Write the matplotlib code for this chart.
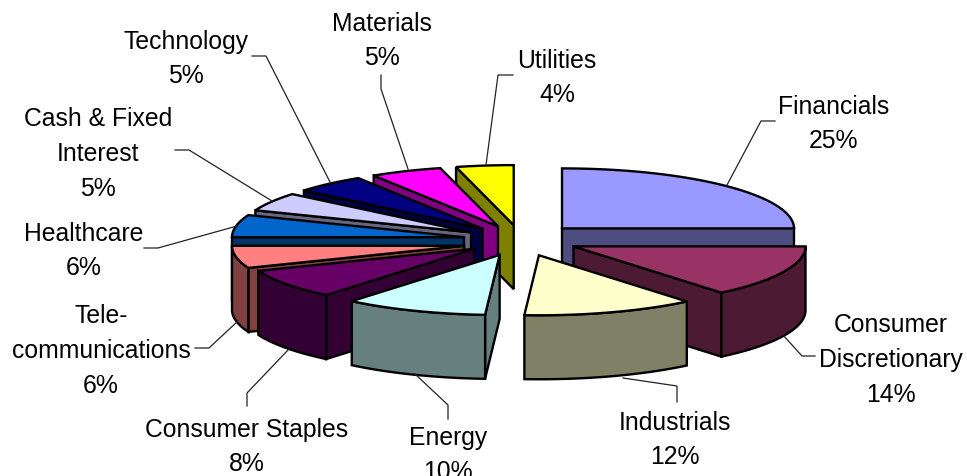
#!/bin/python

import matplotlib
matplotlib.use("Agg")
import matplotlib.pyplot as plt
from matplotlib.patches import Polygon
import numpy as np

# data, clockwise from twelve o'clock
sectors = ["Financials", "Consumer\nDiscretionary", "Industrials", "Energy",
           "Consumer Staples", "Tele-\ncommunications", "Healthcare",
           "Cash & Fixed\nInterest", "Technology", "Materials", "Utilities"]
weights = [25, 14, 12, 10, 8, 6, 6, 5, 5, 5, 4]
top_colors = ["#9999FF", "#993366", "#FFFFCC", "#CCFFFF", "#660066", "#FF8080",
              "#0066CC", "#CCCCFF", "#000080", "#FF00FF", "#FFFF00"]
side_colors = ["#4D4D80", "#4D1A33", "#808066", "#668080", "#330033", "#804040",
               "#003366", "#666680", "#000040", "#800080", "#808000"]

# pie geometry in pixels
CX, CY = 521, 241
RX, RY = 232, 60
DEPTH = 64
EXPLODE = 0.25

# small vertical corrections per slice, the original is not quite regular
y_nudge = [-1, 0, 1, 1, 0, 3, 0, 0, 0, 0, 0]

# back slices first so the front ones cover them
draw_order = [10, 9, 8, 7, 6, 5, 4, 3, 0, 1, 2]

# label centre, then leader line points
label_pos = [(834, 124), (891, 360), (675, 440), (448, 455),
             (247, 447), (101, 351), (84, 251),
             (98, 154), (186, 59), (382, 41), (557, 78)]
leaders = [[(727, 186), (761, 122), (775, 122)],
           [(783, 336), (802, 357), (815, 357)],
           [(623, 379), (677, 387), (677, 403)],
           [(415, 375), (448, 406), (448, 420)],
           [(289, 350), (247, 394), (247, 407)],
           [(238, 322), (209, 349), (195, 349)],
           [(237, 227), (158, 249), (144, 249)],
           [(272, 202), (189, 151), (175, 151)],
           [(330, 183), (266, 57), (252, 57)],
           [(408, 170), (381, 90), (381, 76)],
           [(486, 166), (498, 76), (513, 76)]]


def rim(theta, ax_x, ax_y):
    return ax_x + RX * np.sin(theta), ax_y - RY * np.cos(theta)


def draw_slice(ax, start, end, top, side, nudge):
    mid = (start + end) / 2
    apex = rim(mid, CX, CY)
    apex = (CX + EXPLODE * (apex[0] - CX), CY + EXPLODE * (apex[1] - CY) + nudge)

    thetas = np.linspace(start, end, 60)
    xs, ys = rim(thetas, *apex)
    style = dict(edgecolor="black", linewidth=1.7, joinstyle="miter")

    # cut faces, only the ones turned to the viewer
    for x, y, visible in [(xs[0], ys[0], xs[0] < apex[0] - 0.01),
                          (xs[-1], ys[-1], xs[-1] > apex[0] + 0.01)]:
        if visible:
            quad = [apex, (x, y), (x, y + DEPTH), (apex[0], apex[1] + DEPTH)]
            ax.add_patch(Polygon(quad, facecolor=side, **style))

    # outer wall on the front half of the rim
    front = np.linspace(max(start, np.pi / 2), min(end, 3 * np.pi / 2), 60)
    if front[-1] > front[0]:
        fx, fy = rim(front, *apex)
        wall = np.vstack([np.c_[fx, fy], np.c_[fx, fy + DEPTH][::-1]])
        ax.add_patch(Polygon(wall, facecolor=side, **style))

    outline = np.vstack([[apex], np.c_[xs, ys]])
    ax.add_patch(Polygon(outline, facecolor=top, **style))


def main() -> None:
    plt.rcParams["font.family"] = ["Liberation Sans", "DejaVu Sans"]
    fig = plt.figure(figsize=(9.67, 4.77), dpi=100)
    ax = fig.add_axes([0, 0, 1, 1])
    ax.set_xlim(0, 967)
    ax.set_ylim(477, 0)
    ax.axis("off")

    edges = 2 * np.pi * np.cumsum([0] + weights) / sum(weights)
    for i in draw_order:
        draw_slice(ax, edges[i], edges[i + 1], top_colors[i], side_colors[i], y_nudge[i])

    for name, weight, pos, line in zip(sectors, weights, label_pos, leaders):
        lx, ly = zip(*line)
        ax.plot(lx, ly, color="#222222", linewidth=0.9, zorder=1)
        ax.text(pos[0], pos[1], f"{name}\n{weight}%", ha="center", va="center",
                fontsize=17.8, linespacing=1.57, color="black")

    fig.savefig("out.png", dpi=100)


if __name__ == "__main__":
    main()
